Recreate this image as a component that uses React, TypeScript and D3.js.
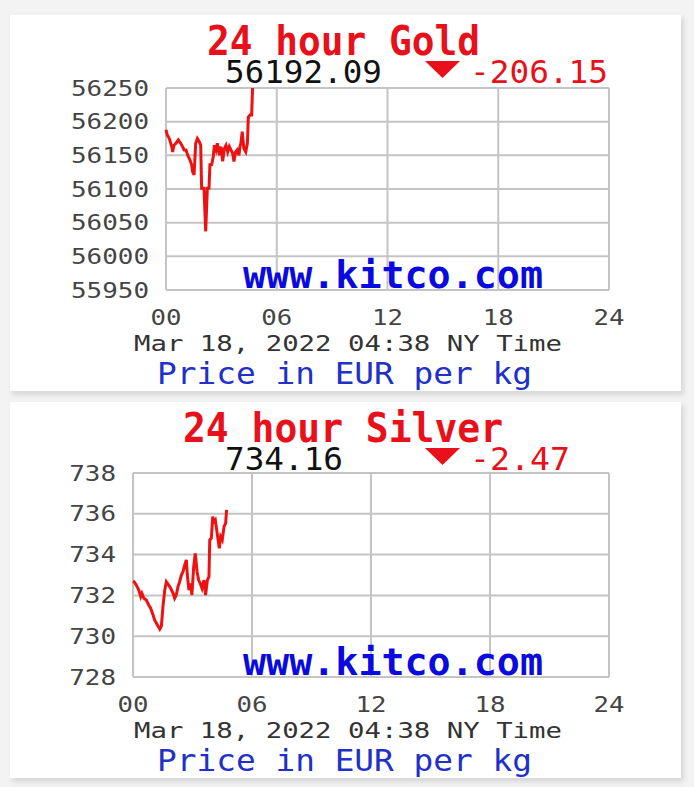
import React from "react";
import * as d3 from "d3";

// ---------- data ----------
const hourTicks = [0, 6, 12, 18, 24];
const hourTickLabels = ["00", "06", "12", "18", "24"];

const goldHours = [0, 0.07, 0.18, 0.31, 0.36, 0.43, 0.54, 0.67, 0.79, 0.9, 0.98, 1.08, 1.21, 1.3, 1.39, 1.44, 1.52, 1.61, 1.7, 1.81, 1.88, 1.93, 2.06, 2.15, 2.24, 2.33, 2.38, 2.47, 2.56, 2.62, 2.71, 2.78, 2.89, 2.98, 3.07, 3.16, 3.25, 3.34, 3.43, 3.52, 3.61, 3.68, 3.77, 3.86, 3.95, 4.01, 4.06, 4.13, 4.22, 4.32, 4.41, 4.46, 4.55, 4.64, 4.69];
const goldValues = [56188, 56180, 56175, 56163, 56155, 56165, 56168, 56173, 56168, 56163, 56158, 56158, 56148, 56143, 56136, 56126, 56121, 56168, 56175, 56170, 56165, 56101, 56101, 56037, 56101, 56101, 56136, 56136, 56148, 56165, 56158, 56168, 56150, 56163, 56141, 56160, 56165, 56155, 56163, 56158, 56153, 56141, 56155, 56158, 56150, 56163, 56168, 56185, 56160, 56155, 56168, 56207, 56210, 56210, 56250];
const goldTicks = [55950, 56000, 56050, 56100, 56150, 56200, 56250];

const silverHours = [0, 0.05, 0.17, 0.29, 0.39, 0.45, 0.55, 0.67, 0.79, 0.89, 1.01, 1.09, 1.23, 1.35, 1.43, 1.51, 1.6, 1.68, 1.8, 1.9, 2.02, 2.1, 2.18, 2.27, 2.35, 2.44, 2.52, 2.61, 2.69, 2.74, 2.82, 2.91, 2.97, 3.06, 3.14, 3.23, 3.31, 3.39, 3.48, 3.58, 3.66, 3.75, 3.83, 3.87, 3.95, 4.02, 4.08, 4.15, 4.22, 4.29, 4.35, 4.42, 4.5, 4.59, 4.67, 4.72];
const silverValues = [732.7, 732.67, 732.5, 732.26, 731.94, 732.1, 731.86, 731.77, 731.53, 731.37, 731.04, 730.8, 730.55, 730.35, 730.5, 731.45, 732.26, 732.67, 732.5, 732.35, 732.1, 731.86, 732.02, 732.43, 732.67, 733.0, 733.16, 733.49, 733.74, 733.0, 732.26, 732.59, 732.02, 733.41, 734.06, 733.16, 732.75, 732.59, 732.35, 732.75, 732.02, 732.75, 732.92, 734.72, 734.8, 735.86, 735.61, 735.7, 735.21, 734.72, 734.31, 734.88, 734.72, 735.37, 735.53, 736.19];
const silverTicks = [728, 730, 732, 734, 736, 738];

const metals = ["Gold", "Silver"];
const prices = ["56192.09", "734.16"];
const changes = ["-206.15", "-2.47"];
const dateLine = "Mar 18, 2022 04:38 NY Time";
const unitLine = "Price in EUR per kg";
const watermark = "www.kitco.com";

// ---------- panel ----------
const MONO = "'DejaVu Sans Mono', 'Liberation Mono', monospace";

type PanelProps = {
  top: number;
  plot: { left: number; right: number; top: number; bottom: number };
  hours: number[];
  values: number[];
  ticks: number[];
  metal: string;
  price: string;
  change: string;
  priceWidth: number;
  changeWidth: number;
  titleLeft: number;
  titleWidth: number;
};

function Panel(p: PanelProps) {
  const x = d3.scaleLinear().domain([0, 24]).range([p.plot.left, p.plot.right]);
  const y = d3
    .scaleLinear()
    .domain([p.ticks[0], p.ticks[p.ticks.length - 1]])
    .range([p.plot.bottom, p.plot.top]);
  const pts: [number, number][] = p.hours.map((h, i) => [h, p.values[i]]);
  const line = d3
    .line<[number, number]>()
    .x((d) => x(d[0]))
    .y((d) => y(d[1]));
  const t = p.top;
  const grid = "#c4c4c4";
  const tickLabelLen = (s: string) => s.length * 15.6;
  return (
    <g>
      {/* card */}
      <rect x={12} y={t + 3} width={672} height={377} fill="#d8d8d8" filter="url(#blur)" />
      <rect x={10} y={t} width={671} height={376} fill="#ffffff" />
      {/* title */}
      <text
        x={p.titleLeft}
        y={t + 40}
        fontFamily={MONO}
        fontWeight="bold"
        fontSize={41}
        fill="#e8101a"
        textLength={p.titleWidth}
        lengthAdjust="spacingAndGlyphs"
      >
        {`24 hour ${p.metal}`}
      </text>
      <text x={225} y={t + 68} fontFamily={MONO} fontSize={32} fill="#111" textLength={p.priceWidth} lengthAdjust="spacingAndGlyphs">
        {p.price}
      </text>
      <path d={`M425,${t + 46}L460,${t + 46}L442.5,${t + 63}Z`} fill="#e8101a" />
      <text x={470} y={t + 68} fontFamily={MONO} fontSize={32} fill="#e8101a" textLength={p.changeWidth} lengthAdjust="spacingAndGlyphs">
        {p.change}
      </text>
      {/* grid */}
      {p.ticks.map((v) => (
        <line key={"h" + v} x1={p.plot.left} x2={p.plot.right} y1={y(v)} y2={y(v)} stroke={grid} strokeWidth={2} />
      ))}
      {hourTicks.map((h) => (
        <line key={"v" + h} x1={x(h)} x2={x(h)} y1={p.plot.top} y2={p.plot.bottom} stroke={grid} strokeWidth={2} />
      ))}
      {/* y labels */}
      {p.ticks.map((v) => (
        <text
          key={"yl" + v}
          x={p.plot.left - 17}
          y={y(v) + 7.5}
          textAnchor="end"
          fontFamily={MONO}
          fontSize={21}
          fill="#444"
          textLength={tickLabelLen(String(v))}
          lengthAdjust="spacingAndGlyphs"
        >
          {v}
        </text>
      ))}
      {/* watermark */}
      <text
        x={243}
        y={p.plot.bottom - 2}
        fontFamily={MONO}
        fontWeight="bold"
        fontSize={37}
        fill="#0a0ae0"
        textLength={300}
        lengthAdjust="spacingAndGlyphs"
      >
        {watermark}
      </text>
      {/* data line */}
      <path d={line(pts) || ""} fill="none" stroke="#ee1111" strokeWidth={3} strokeLinejoin="miter" />
      {/* x labels */}
      {hourTicks.map((h, i) => (
        <text
          key={"xl" + h}
          x={x(h)}
          y={t + 310}
          textAnchor="middle"
          fontFamily={MONO}
          fontSize={22}
          fill="#444"
          textLength={31}
          lengthAdjust="spacingAndGlyphs"
        >
          {hourTickLabels[i]}
        </text>
      ))}
      <text x={134} y={t + 336} fontFamily={MONO} fontSize={22} fill="#333" textLength={428} lengthAdjust="spacingAndGlyphs">
        {dateLine}
      </text>
      <text x={157} y={t + 369} fontFamily={MONO} fontSize={30} fill="#2030c8" textLength={375} lengthAdjust="spacingAndGlyphs">
        {unitLine}
      </text>
    </g>
  );
}

export default function App() {
  return (
    <svg width={694} height={787} style={{ position: "absolute", left: 0, top: 0, display: "block" }}>
      <defs>
        <filter id="blur" x="-5%" y="-5%" width="110%" height="110%">
          <feGaussianBlur stdDeviation={2.5} />
        </filter>
      </defs>
      <rect x={0} y={0} width={694} height={787} fill="#f3f3f3" />
      <Panel
        top={15}
        plot={{ left: 166, right: 609, top: 88, bottom: 290 }}
        hours={goldHours}
        values={goldValues}
        ticks={goldTicks}
        metal={metals[0]}
        price={prices[0]}
        change={changes[0]}
        priceWidth={157}
        changeWidth={138}
        titleLeft={207}
        titleWidth={273}
      />
      <Panel
        top={402}
        plot={{ left: 133, right: 609, top: 473, bottom: 677 }}
        hours={silverHours}
        values={silverValues}
        ticks={silverTicks}
        metal={metals[1]}
        price={prices[1]}
        change={changes[1]}
        priceWidth={118}
        changeWidth={100}
        titleLeft={183}
        titleWidth={320}
      />
    </svg>
  );
}
